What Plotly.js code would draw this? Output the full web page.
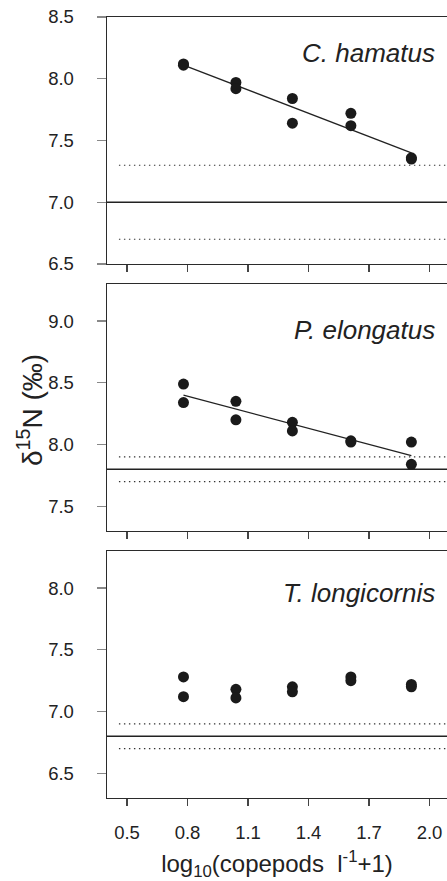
<!DOCTYPE html>
<html><head><meta charset="utf-8">
<script src="https://cdn.plot.ly/plotly-3.0.1.min.js"></script>
<style>html,body{margin:0;padding:0;background:#fff;overflow:hidden}#chart{width:447px;height:881px}</style>
</head><body><div id="chart"></div>
<script>
// log10(copepods l^-1 + 1) for each sample
const xDensity = [0.78, 0.78, 1.04, 1.04, 1.32, 1.32, 1.61, 1.61, 1.91, 1.91];
// delta 15N (per mil) by species
const hamatusN = [8.12, 8.11, 7.97, 7.92, 7.84, 7.64, 7.72, 7.62, 7.36, 7.35];
const elongatusN = [8.49, 8.34, 8.35, 8.20, 8.18, 8.11, 8.03, 8.02, 8.02, 7.84];
const longicornisN = [7.28, 7.12, 7.18, 7.11, 7.20, 7.16, 7.28, 7.25, 7.22, 7.20];
// regression lines (end points)
const fitX = [0.78, 1.91];
const hamatusFit = [8.11, 7.40];
const elongatusFit = [8.40, 7.91];
// baseline mean and +/- range per species
const baseMean = [7.0, 7.8, 6.8];
const baseLow = [6.7, 7.7, 6.7];
const baseHigh = [7.3, 7.9, 6.9];
const speciesNames = ['C. hamatus', 'P. elongatus', 'T. longicornis'];
const xTickVals = [0.5, 0.8, 1.1, 1.4, 1.7, 2.0];
const xTickText = ['0.5', '0.8', '1.1', '1.4', '1.7', '2.0'];
const yTickVals = [
  [6.5, 7.0, 7.5, 8.0, 8.5],
  [7.5, 8.0, 8.5, 9.0],
  [6.5, 7.0, 7.5, 8.0]
];
const yRanges = [[6.5, 8.5], [7.3, 9.3], [6.3, 8.3]];

const seriesN = [hamatusN, elongatusN, longicornisN];
const seriesFit = [hamatusFit, elongatusFit, null];

const FONT = 'Liberation Sans, Arial, Helvetica, sans-serif';
const INK = '#1a1a1a';
const AX = '#2b2b2b';

const traces = [];
for (let i = 0; i < 3; i++) {
  const xa = i === 0 ? 'x' : 'x' + (i + 1);
  const ya = i === 0 ? 'y' : 'y' + (i + 1);
  // baseline range (dotted)
  [baseLow[i], baseHigh[i]].forEach(v => {
    traces.push({x: [0.46, 2.3], y: [v, v], xaxis: xa, yaxis: ya, mode: 'lines',
      line: {color: '#333', width: 1.1, dash: '1.4px,3.6px'}, hoverinfo: 'skip', showlegend: false});
  });
  // baseline mean (solid)
  traces.push({x: [0.3, 2.3], y: [baseMean[i], baseMean[i]], xaxis: xa, yaxis: ya, mode: 'lines',
    line: {color: '#222', width: 1.3}, hoverinfo: 'skip', showlegend: false});
  // regression line
  if (seriesFit[i]) {
    traces.push({x: fitX, y: seriesFit[i], xaxis: xa, yaxis: ya, mode: 'lines',
      line: {color: '#222', width: 1.3}, showlegend: false});
  }
  traces.push({x: xDensity, y: seriesN[i], xaxis: xa, yaxis: ya, mode: 'markers',
    marker: {size: 11, color: INK}, name: speciesNames[i], showlegend: false, cliponaxis: false});
}

const H = 881;
const panelPx = [[17, 264], [284, 531], [551, 798]];
const xRange = [0.4008, 2.0866];

function xAxisDef(i, anchor) {
  return {
    domain: [0, 1], anchor: anchor, range: xRange,
    showgrid: false, zeroline: false, showline: true, mirror: true,
    linecolor: AX, linewidth: 1.4,
    ticks: 'outside', ticklen: 7, tickwidth: 1.2, tickcolor: '#444',
    tickvals: xTickVals, ticktext: xTickText, showticklabels: i === 2,
    tickfont: {family: FONT, size: 18.5, color: '#222'}, ticklabelstandoff: 10
  };
}
function yAxisDef(i, anchor) {
  return {
    domain: [1 - panelPx[i][1] / H, 1 - panelPx[i][0] / H], anchor: anchor,
    range: yRanges[i], showgrid: false, zeroline: false, showline: true, mirror: false,
    linecolor: AX, linewidth: 1.4,
    ticks: 'outside', ticklen: 9, tickwidth: 1.2, tickcolor: '#888',
    tickvals: yTickVals[i], tickformat: '.1f',
    tickfont: {family: FONT, size: 18.5, color: '#222'}, ticklabelstandoff: 19
  };
}

const labelX = 2.037;
const labelY = [8.21, 8.93, 7.96];

const layout = {
  width: 447, height: 881,
  margin: {l: 107, r: 0, t: 0, b: 0},
  paper_bgcolor: '#fff', plot_bgcolor: '#fff',
  font: {family: FONT, color: '#222'},
  showlegend: false,
  xaxis: xAxisDef(0, 'y'), yaxis: yAxisDef(0, 'x'),
  xaxis2: xAxisDef(1, 'y2'), yaxis2: yAxisDef(1, 'x2'),
  xaxis3: Object.assign(xAxisDef(2, 'y3'), {
    title: {text: 'log<sub>10</sub>(copepods\u00a0\u00a0l<sup>-1</sup>+1)', font: {family: FONT, size: 24, color: '#222'}, standoff: 20}
  }),
  yaxis3: yAxisDef(2, 'x3'),
  annotations: speciesNames.map((s, i) => ({
    text: '<i>' + s + '</i>', x: labelX, y: labelY[i],
    xref: i === 0 ? 'x' : 'x' + (i + 1), yref: i === 0 ? 'y' : 'y' + (i + 1),
    xanchor: 'right', yanchor: 'middle', showarrow: false,
    font: {family: FONT, size: 26, color: '#222'}
  })).concat([{
    text: 'δ<sup>15</sup>N (‰)', xref: 'paper', yref: 'paper',
    x: (30 - 107) / 340, y: 1 - 410 / H, xanchor: 'center', yanchor: 'middle',
    textangle: -90, showarrow: false, font: {family: FONT, size: 28, color: '#222'}
  }])
};

Plotly.newPlot('chart', traces, layout, {displayModeBar: false, staticPlot: true});
</script>
</body></html>
